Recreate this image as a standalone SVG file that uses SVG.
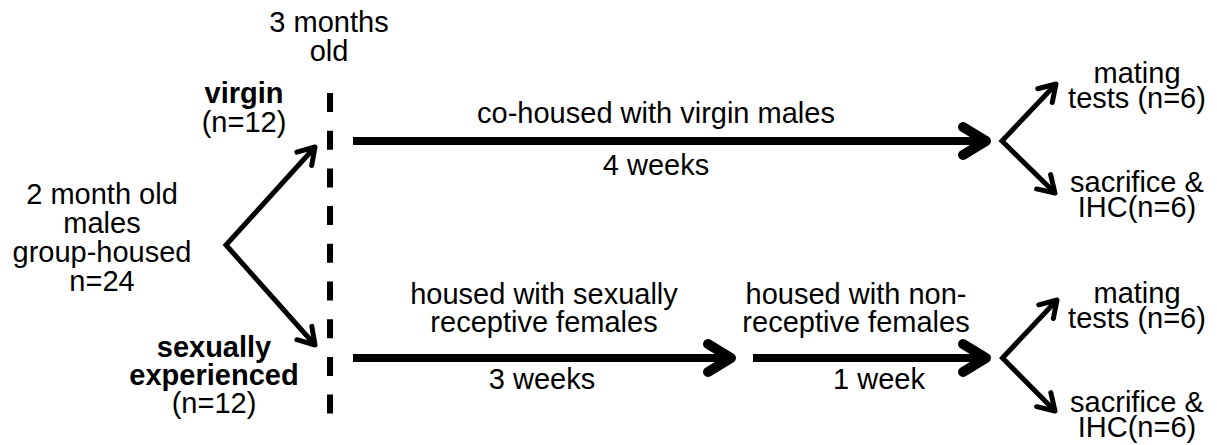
<svg xmlns="http://www.w3.org/2000/svg" width="1217" height="445" viewBox="0 0 1217 445">
  <style>
    text { font-family: "Liberation Sans", Arial, sans-serif; font-size: 29px; fill: #000; text-anchor: middle; }
    .b { font-weight: bold; }
    .n { font-weight: normal; }
    .main { fill: none; stroke: #000; stroke-width: 8; }
    .thin { fill: none; stroke: #000; stroke-width: 5; stroke-linejoin: miter; }
    .dash { fill: none; stroke: #000; stroke-width: 6; stroke-dasharray: 19 18.7; }
  </style>
  <defs>
    <marker id="bigHead" markerUnits="userSpaceOnUse" orient="auto" refX="0" refY="0" markerWidth="40" markerHeight="40" overflow="visible">
      <path d="M-23,-14 L0,0 L-23,14" fill="none" stroke="#000" stroke-width="10" stroke-linecap="round" stroke-linejoin="round"/>
    </marker>
    <marker id="smallHead" markerUnits="userSpaceOnUse" orient="auto-start-reverse" refX="0" refY="0" markerWidth="30" markerHeight="30" overflow="visible">
      <path d="M-16,-10 L0,0 L-16,10" fill="none" stroke="#000" stroke-width="5" stroke-linecap="round" stroke-linejoin="round"/>
    </marker>
  </defs>
  <rect width="1217" height="445" fill="#fff"/>

  <g id="connectors">
    <path class="dash" d="M330,93 V414"/>
    <polyline class="thin" points="315,147 226,245 315,345" marker-start="url(#smallHead)" marker-end="url(#smallHead)"/>
    <path class="main" d="M353,141 H986" marker-end="url(#bigHead)"/>
    <path class="main" d="M353,358 H731" marker-end="url(#bigHead)"/>
    <path class="main" d="M753,358 H986" marker-end="url(#bigHead)"/>
    <polyline class="thin" points="1056,84 1002,141 1055,193" marker-start="url(#smallHead)" marker-end="url(#smallHead)"/>
    <polyline class="thin" points="1057,300 1002.5,358 1055,411" marker-start="url(#smallHead)" marker-end="url(#smallHead)"/>
  </g>

  <g id="start-node">
    <text x="102" y="204">2 month old<tspan x="102" y="233">males</tspan><tspan x="102" y="262">group-housed</tspan><tspan x="102" y="291">n=24</tspan></text>
  </g>
  <g id="age-label">
    <text x="329" y="32">3 months<tspan x="329" y="61">old</tspan></text>
  </g>
  <g id="virgin-node">
    <text class="b" x="244" y="103">virgin<tspan class="n" x="244" y="132">(n=12)</tspan></text>
  </g>
  <g id="experienced-node">
    <text class="b" x="214" y="357">sexually<tspan x="214" y="385">experienced</tspan><tspan class="n" x="214" y="413">(n=12)</tspan></text>
  </g>
  <g id="cohoused-label">
    <text x="656" y="123">co-housed with virgin males</text>
    <text x="656" y="175">4 weeks</text>
  </g>
  <g id="receptive-label">
    <text x="544" y="304">housed with sexually<tspan x="544" y="332">receptive females</tspan></text>
    <text x="542" y="389">3 weeks</text>
  </g>
  <g id="nonreceptive-label">
    <text x="856" y="304">housed with non-<tspan x="856" y="332">receptive females</tspan></text>
    <text x="879" y="389">1 week</text>
  </g>
  <g id="virgin-mating">
    <text x="1137" y="83">mating<tspan x="1137" y="108">tests (n=6)</tspan></text>
  </g>
  <g id="virgin-ihc">
    <text x="1137" y="192">sacrifice &amp;<tspan x="1137" y="217">IHC(n=6)</tspan></text>
  </g>
  <g id="experienced-mating">
    <text x="1137" y="303">mating<tspan x="1137" y="328">tests (n=6)</tspan></text>
  </g>
  <g id="experienced-ihc">
    <text x="1137" y="412">sacrifice &amp;<tspan x="1137" y="437">IHC(n=6)</tspan></text>
  </g>
</svg>
